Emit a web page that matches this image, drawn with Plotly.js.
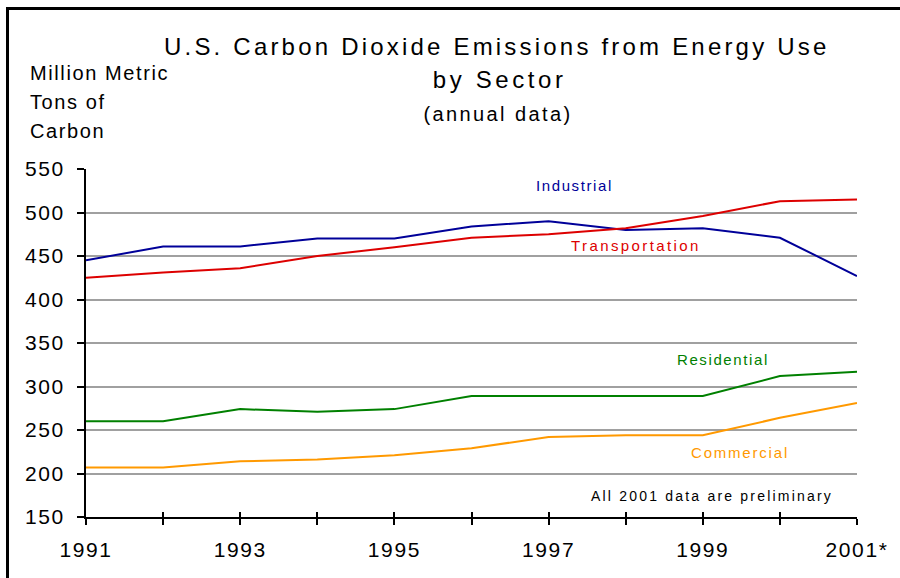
<!DOCTYPE html>
<html>
<head>
<meta charset="utf-8">
<script src="https://cdn.plot.ly/plotly-3.0.1.min.js"></script>
<style>
  html, body { margin: 0; padding: 0; background: #fff; }
  #chart { width: 900px; height: 578px; }
  .xtick text, .ytick text { letter-spacing: 1.6px; }
</style>
</head>
<body>
<div id="chart"></div>
<script>
// ---- Data ----
const years = [1991, 1992, 1993, 1994, 1995, 1996, 1997, 1998, 1999, 2000, 2001];
const industrial     = [445, 461, 461, 470, 470, 484, 490, 480, 482, 471, 427];
const transportation = [425, 431, 436, 450, 460, 471, 475, 482, 496, 513, 515];
const residential    = [260, 260, 274, 271, 274, 289, 289, 289, 289, 312, 317];
const commercial     = [207, 207, 214, 216, 221, 229, 242, 244, 244, 264, 281];
const seriesNames = ['Industrial', 'Transportation', 'Residential', 'Commercial'];
const xTickLabels = ['1991', '', '1993', '', '1995', '', '1997', '', '1999', '', '2001*'];
const yTickVals = [150, 200, 250, 300, 350, 400, 450, 500, 550];

const colors = ['#000099', '#dd0000', '#008000', '#ff9900'];
const seriesData = [industrial, transportation, residential, commercial];

const W = 900, H = 578;
const M = { l: 86, r: 43, t: 169, b: 61 };
const PW = W - M.l - M.r, PH = H - M.t - M.b;
const px = x => (x - M.l) / PW;
const py = y => (H - M.b - y) / PH;

const traces = seriesData.map((vals, i) => ({
  type: 'scatter', mode: 'lines', name: seriesNames[i],
  x: years, y: vals,
  line: { color: colors[i], width: 2 },
  hoverinfo: 'skip'
}));
traces.push({ type: 'scatter', mode: 'lines', x: [], y: [], xaxis: 'x2', showlegend: false, hoverinfo: 'skip' });

const FONT = '"Liberation Sans", Arial, sans-serif';

function ann(text, xpx, ypx, size, color, xanchor) {
  return {
    text: text, xref: 'paper', yref: 'paper', x: px(xpx), y: py(ypx),
    xanchor: xanchor, yanchor: 'middle', align: xanchor, showarrow: false,
    borderpad: 0,
    font: { family: FONT, size: size, color: color }
  };
}

const annotations = [
  ann('U.S. Carbon Dioxide Emissions from Energy Use', 497, 47, 24, '#000', 'center'),
  ann('by Sector', 499, 80, 24, '#000', 'center'),
  ann('(annual data)', 498, 114, 20, '#000', 'center'),
  ann('Million Metric', 29, 73, 20, '#000', 'left'),
  ann('Tons of', 29, 102, 20, '#000', 'left'),
  ann('Carbon', 29, 131, 20, '#000', 'left'),
  ann(seriesNames[0], 535, 185, 15, colors[0], 'left'),
  ann(seriesNames[1], 570, 245, 15, colors[1], 'left'),
  ann(seriesNames[2], 676, 359, 15, colors[2], 'left'),
  ann(seriesNames[3], 690, 452, 15, colors[3], 'left'),
  ann('All 2001 data are preliminary', 590, 496, 14, '#000', 'left')
];
const spacing = [3.2, 3.6, 2.4, 1.6, 1.6, 1.6, 1.6, 2.4, 1.6, 1.8, 2.2];

const layout = {
  width: W, height: H,
  margin: M,
  paper_bgcolor: '#fff', plot_bgcolor: '#fff',
  showlegend: false,
  font: { family: FONT, color: '#000' },
  xaxis: {
    range: [1991, 2001], tickvals: years, ticktext: xTickLabels,
    ticks: 'outside', ticklen: 6, tickwidth: 2, tickcolor: '#000',
    showline: true, linecolor: '#000', linewidth: 2,
    showgrid: false, zeroline: false,
    tickfont: { family: FONT, size: 21, color: '#000' },
    ticklabelstandoff: 7
  },
  xaxis2: {
    overlaying: 'x', anchor: 'y', side: 'bottom',
    range: [1991, 2001], tickvals: years,
    ticks: 'inside', ticklen: 5, tickwidth: 2, tickcolor: '#000',
    showticklabels: false, showgrid: false, zeroline: false, showline: false
  },
  yaxis: {
    range: [150, 550], tickvals: yTickVals,
    ticks: 'outside', ticklen: 7, tickwidth: 2, tickcolor: '#000',
    showline: true, linecolor: '#000', linewidth: 2,
    showgrid: true, gridcolor: '#a0a0a0', gridwidth: 2, zeroline: false,
    tickfont: { family: FONT, size: 21, color: '#000' },
    ticklabelstandoff: 8
  },
  annotations: annotations,
  shapes: [
    { type: 'line', xref: 'paper', yref: 'paper', x0: px(7.5), x1: px(7.5), y0: py(7), y1: py(H + 5), line: { color: '#000', width: 3 } },
    { type: 'line', xref: 'paper', yref: 'paper', x0: px(6), x1: px(W + 5), y0: py(8.5), y1: py(8.5), line: { color: '#000', width: 3 } }
  ]
};

Plotly.newPlot('chart', traces, layout, { displayModeBar: false, staticPlot: true }).then(() => {
  document.querySelectorAll('#chart .annotation-text').forEach((el, i) => {
    if (spacing[i] !== undefined) el.style.letterSpacing = spacing[i] + 'px';
  });
});
</script>
</body>
</html>
